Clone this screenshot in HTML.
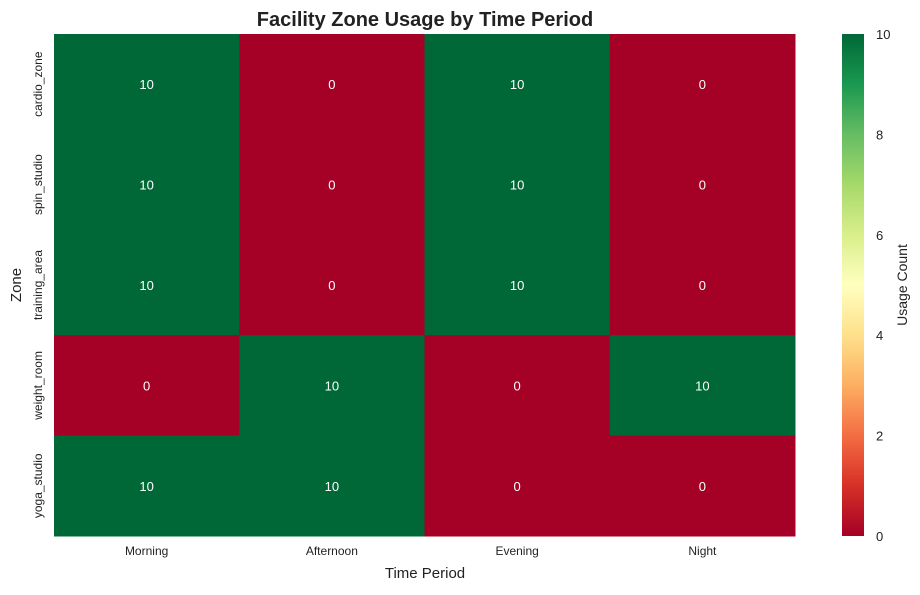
<!DOCTYPE html>
<html><head><meta charset="utf-8"><style>
body{margin:0;background:#fff;font-family:"Liberation Sans",sans-serif;}
svg text{font-family:"Liberation Sans",sans-serif;}
</style></head><body>
<svg id="chart" width="920" height="590">
<defs><linearGradient id="cb" x1="0" y1="1" x2="0" y2="0">
<stop offset="0" stop-color="#a50026"/><stop offset="0.1" stop-color="#d73027"/><stop offset="0.2" stop-color="#f46d43"/><stop offset="0.3" stop-color="#fdae61"/><stop offset="0.4" stop-color="#fee08b"/><stop offset="0.5" stop-color="#ffffbf"/><stop offset="0.6" stop-color="#d9ef8b"/><stop offset="0.7" stop-color="#a6d96a"/><stop offset="0.8" stop-color="#66bd63"/><stop offset="0.9" stop-color="#1a9850"/><stop offset="1" stop-color="#006837"/>
</linearGradient></defs>
<text x="425" y="26" text-anchor="middle" font-size="20" font-weight="bold" fill="#222">Facility Zone Usage by Time Period</text>
<g id="cells"></g>
<text x="425" y="578" text-anchor="middle" font-size="15" fill="#222">Time Period</text>
<text transform="translate(21,285) rotate(-90)" text-anchor="middle" font-size="15" fill="#222">Zone</text>
<rect x="842" y="34" width="22" height="502" fill="url(#cb)"/>
<g id="cbticks"></g>
<text transform="translate(907,285) rotate(-90)" text-anchor="middle" font-size="14" fill="#222">Usage Count</text>
</svg>
<script>
const periods=["Morning","Afternoon","Evening","Night"];
const zones=["cardio_zone","spin_studio","training_area","weight_room","yoga_studio"];
const values=[[10,0,10,0],[10,0,10,0],[10,0,10,0],[0,10,0,10],[10,10,0,0]];
const cbTicks=[0,2,4,6,8,10];
const NS="http://www.w3.org/2000/svg";
const X0=54,X1=795,Y0=34,Y1=536,VMAX=10;
const cw=(X1-X0)/periods.length,ch=(Y1-Y0)/zones.length;
const xs=i=>X0+i*cw, ys=j=>Y0+j*ch;
const stops=["#a50026","#d73027","#f46d43","#fdae61","#fee08b","#ffffbf","#d9ef8b","#a6d96a","#66bd63","#1a9850","#006837"];
function col(v){const t=Math.max(0,Math.min(1,v/VMAX))*10;const i=Math.min(9,Math.floor(t)),f=t-i;
const a=stops[i],b=stops[i+1];const p=(s,k)=>parseInt(s.substr(1+2*k,2),16);
return "rgb("+[0,1,2].map(k=>Math.round(p(a,k)+(p(b,k)-p(a,k))*f)).join(",")+")";}
function mk(tag,at,parent,txt){const e=document.createElementNS(NS,tag);for(const k in at)e.setAttribute(k,at[k]);if(txt!==undefined)e.textContent=txt;parent.appendChild(e);return e;}
const g=document.getElementById("cells"),svg=document.getElementById("chart");
values.forEach((row,j)=>row.forEach((v,i)=>{
const r=mk("rect",{x:xs(i),y:ys(j),width:cw+0.5,height:ch+0.5,fill:col(v)},g);


const t=mk("text",{x:xs(i)+cw/2,y:ys(j)+ch/2+5,"text-anchor":"middle","font-size":13,fill:"#fff"},g,String(v));


}));
periods.forEach((p,i)=>{
const t=mk("text",{x:xs(i)+cw/2,y:555,"text-anchor":"middle","font-size":12,fill:"#222"},svg,p);


});
zones.forEach((z,j)=>{
const t=mk("text",{transform:"translate(42,"+(ys(j)+ch/2)+") rotate(-90)","text-anchor":"middle","font-size":12,fill:"#222"},svg,z);


});
const cg=document.getElementById("cbticks");
cbTicks.forEach(v=>{const y=Y1-(v/VMAX)*(Y1-Y0);
const t=mk("text",{x:876,y:y+5,"font-size":13,fill:"#222"},cg,String(v));


});
</script>
</body></html>
